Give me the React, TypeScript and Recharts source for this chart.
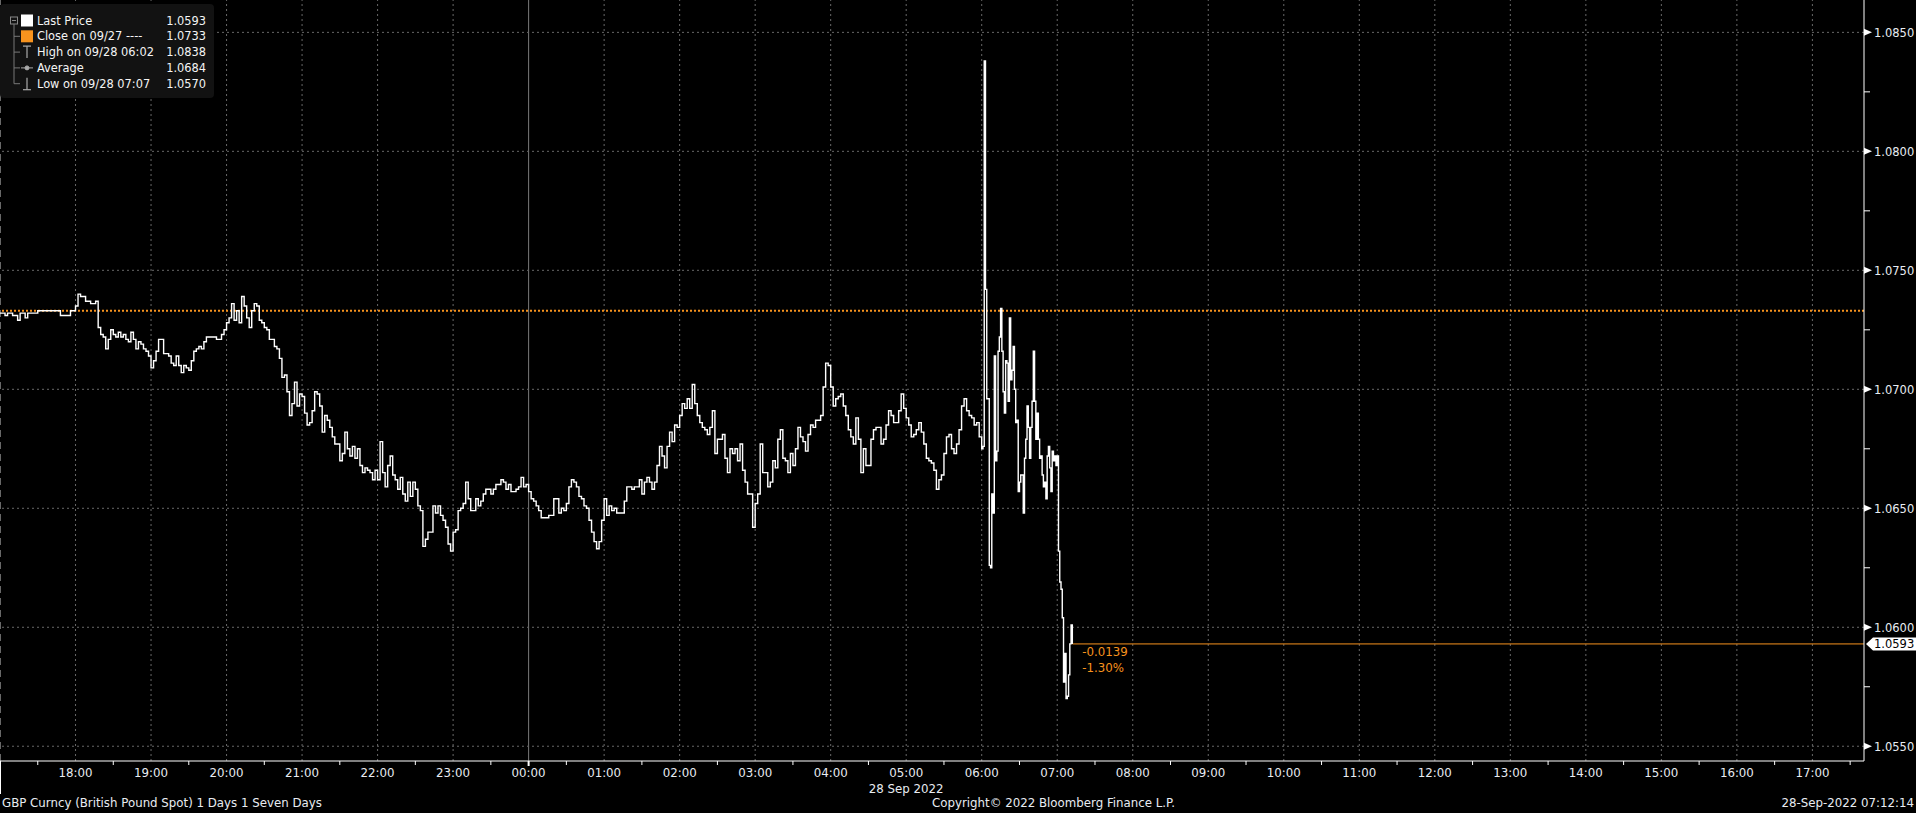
import React from 'react';
import { LineChart, Line, XAxis, YAxis, ReferenceLine, ReferenceDot } from 'recharts';

// GBP spot, minutes after 17:00 on 27 Sep. Overnight sampled every 2 min, morning every minute.
const overnightStart = 0;
const overnightStep = 2;
const overnightPrices = [
  1.0732, 1.0732, 1.0731, 1.0732, 1.0732, 1.0731, 1.0731, 1.0729, 1.0732, 1.0732, 1.0730, 1.0732, 1.0732, 1.0732, 1.0732, 1.0733, 1.0733, 1.0733, 1.0733, 1.0733, 1.0733, 1.0733, 1.0733, 1.0733, 1.0731, 1.0731, 1.0731, 1.0731, 1.0733, 1.0733,
  1.0735, 1.0740, 1.0739, 1.0739, 1.0737, 1.0737, 1.0736, 1.0736, 1.0737, 1.0726, 1.0723, 1.0722, 1.0717, 1.0721, 1.0725, 1.0723, 1.0722, 1.0724, 1.0722, 1.0723, 1.0721, 1.0720, 1.0724, 1.0721, 1.0717, 1.0720, 1.0719, 1.0717, 1.0716, 1.0714,
  1.0709, 1.0712, 1.0716, 1.0721, 1.0721, 1.0715, 1.0715, 1.0714, 1.0711, 1.0710, 1.0714, 1.0710, 1.0707, 1.0710, 1.0709, 1.0708, 1.0712, 1.0716, 1.0717, 1.0718, 1.0717, 1.0720, 1.0722, 1.0722, 1.0722, 1.0722, 1.0721, 1.0721, 1.0723, 1.0725,
  1.0728, 1.0730, 1.0736, 1.0729, 1.0733, 1.0728, 1.0739, 1.0735, 1.0730, 1.0726, 1.0733, 1.0736, 1.0735, 1.0729, 1.0728, 1.0726, 1.0725, 1.0721, 1.0721, 1.0718, 1.0717, 1.0713, 1.0705, 1.0706, 1.0699, 1.0689, 1.0694, 1.0703, 1.0693, 1.0698,
  1.0697, 1.0690, 1.0685, 1.0686, 1.0691, 1.0699, 1.0698, 1.0693, 1.0682, 1.0689, 1.0687, 1.0684, 1.0680, 1.0677, 1.0677, 1.0670, 1.0673, 1.0682, 1.0675, 1.0672, 1.0676, 1.0671, 1.0675, 1.0668, 1.0665, 1.0667, 1.0666, 1.0665, 1.0662, 1.0666,
  1.0662, 1.0678, 1.0665, 1.0659, 1.0668, 1.0672, 1.0664, 1.0662, 1.0658, 1.0663, 1.0656, 1.0653, 1.0661, 1.0655, 1.0661, 1.0658, 1.0651, 1.0649, 1.0634, 1.0637, 1.0640, 1.0640, 1.0651, 1.0648, 1.0651, 1.0647, 1.0645, 1.0642, 1.0635, 1.0632,
  1.0640, 1.0641, 1.0649, 1.0650, 1.0652, 1.0661, 1.0654, 1.0649, 1.0649, 1.0654, 1.0651, 1.0653, 1.0656, 1.0658, 1.0658, 1.0656, 1.0658, 1.0660, 1.0660, 1.0662, 1.0661, 1.0658, 1.0660, 1.0657, 1.0657, 1.0658, 1.0659, 1.0663, 1.0659, 1.0660,
  1.0657, 1.0654, 1.0653, 1.0651, 1.0649, 1.0646, 1.0646, 1.0646, 1.0647, 1.0647, 1.0654, 1.0654, 1.0648, 1.0650, 1.0649, 1.0652, 1.0659, 1.0662, 1.0661, 1.0659, 1.0655, 1.0654, 1.0651, 1.0650, 1.0645, 1.0640, 1.0636, 1.0633, 1.0636, 1.0645,
  1.0654, 1.0647, 1.0651, 1.0649, 1.0650, 1.0648, 1.0648, 1.0648, 1.0653, 1.0659, 1.0659, 1.0658, 1.0659, 1.0659, 1.0662, 1.0656, 1.0661, 1.0663, 1.0661, 1.0658, 1.0661, 1.0668, 1.0676, 1.0672, 1.0667, 1.0676, 1.0682, 1.0678, 1.0685, 1.0684,
  1.0689, 1.0694, 1.0692, 1.0696, 1.0692, 1.0702, 1.0694, 1.0689, 1.0686, 1.0684, 1.0683, 1.0681, 1.0684, 1.0691, 1.0673, 1.0679, 1.0679, 1.0681, 1.0671, 1.0665, 1.0675, 1.0673, 1.0675, 1.0670, 1.0677, 1.0666, 1.0661, 1.0656, 1.0656, 1.0642,
  1.0652, 1.0656, 1.0677, 1.0665, 1.0665, 1.0659, 1.0661, 1.0670, 1.0667, 1.0679, 1.0683, 1.0671, 1.0670, 1.0665, 1.0673, 1.0668, 1.0675, 1.0684, 1.0680, 1.0678, 1.0674, 1.0681, 1.0685, 1.0684, 1.0687, 1.0687, 1.0689, 1.0701, 1.0711, 1.0710,
  1.0701, 1.0693, 1.0696, 1.0697, 1.0698, 1.0693, 1.0689, 1.0683, 1.0680, 1.0677, 1.0688, 1.0679, 1.0665, 1.0675, 1.0668, 1.0668, 1.0679, 1.0683, 1.0684, 1.0684, 1.0677, 1.0679, 1.0685, 1.0691, 1.0689, 1.0686, 1.0686, 1.0691, 1.0698, 1.0692,
  1.0688, 1.0685, 1.0680, 1.0681, 1.0683, 1.0686, 1.0682, 1.0677, 1.0671, 1.0670, 1.0669, 1.0666, 1.0658, 1.0662, 1.0664, 1.0673, 1.0680, 1.0681, 1.0675, 1.0673, 1.0677, 1.0683, 1.0693, 1.0696, 1.0691, 1.0689, 1.0688, 1.0685, 1.0686, 1.0680,
];

const morningStart = 780; // 06:00
const morningStep = 1;
const morningPrices = [
  1.0675, 1.0676, 1.0838, 1.0742, 1.0696, 1.0696, 1.0626, 1.0625, 1.0656, 1.0648,
  1.0714, 1.0670, 1.0674, 1.0716, 1.0722, 1.0734, 1.0716, 1.0699, 1.0690, 1.0712,
  1.0711, 1.0695, 1.0730, 1.0704, 1.0708, 1.0718, 1.0700, 1.0686, 1.0687, 1.0657,
  1.0661, 1.0664, 1.0664, 1.0648, 1.0671, 1.0679, 1.0693, 1.0684, 1.0671, 1.0684,
  1.0695, 1.0716, 1.0695, 1.0679, 1.0690, 1.0679, 1.0671, 1.0672, 1.0664, 1.0659,
  1.0661, 1.0654, 1.0672, 1.0676, 1.0667, 1.0657, 1.0674, 1.0670, 1.0672, 1.0668,
  1.0672, 1.0632, 1.0619, 1.0616, 1.0604, 1.0577, 1.0589, 1.0570, 1.0571, 1.0580,
  1.0593, 1.0601, 1.0593,
];

const hourLabels = [
  '18:00', '19:00', '20:00', '21:00', '22:00', '23:00', '00:00', '01:00', '02:00', '03:00', '04:00', '05:00',
  '06:00', '07:00', '08:00', '09:00', '10:00', '11:00', '12:00', '13:00', '14:00', '15:00', '16:00', '17:00',
];
const dayBreakLabel = '00:00';
const dateUnder = '05:00';
const dateLabel = '28 Sep 2022';

const priceTicks = [1.055, 1.0575, 1.06, 1.0625, 1.065, 1.0675, 1.07, 1.0725, 1.075, 1.0775, 1.08, 1.0825, 1.085];
const priceLabels = ['1.0550', '1.0600', '1.0650', '1.0700', '1.0750', '1.0800', '1.0850'];

const closePrice = 1.0733;
const lastLabel = '1.0593';
const changeLabels = ['-0.0139', '-1.30%'];

const legendRows = [
  { icon: 'last', label: 'Last Price', value: '1.0593' },
  { icon: 'close', label: 'Close on 09/27 ----', value: '1.0733' },
  { icon: 'high', label: 'High on 09/28 06:02', value: '1.0838' },
  { icon: 'avg', label: 'Average', value: '1.0684' },
  { icon: 'low', label: 'Low on 09/28 07:07', value: '1.0570' },
];

const footerLeft = 'GBP Curncy (British Pound Spot) 1 Days 1 Seven Days';
const footerMid = 'Copyright\u00a9 2022 Bloomberg Finance L.P.';
const footerRight = '28-Sep-2022 07:12:14';

const X_DOMAIN: [number, number] = [0, 1481];
const Y_DOMAIN: [number, number] = [1.05438, 1.08636];
const ORANGE = '#f7931e';
const TEXT = '#e8ecf2';
const GRID = '#686868';
const FONT = "'DejaVu Sans', sans-serif";

const data = [
  ...overnightPrices.map((p, i) => ({ t: overnightStart + i * overnightStep, price: p })),
  ...morningPrices.map((p, i) => ({ t: morningStart + i * morningStep, price: p })),
];
const last = data[data.length - 1];
const hourValues = hourLabels.map((_, i) => (i + 1) * 60);
const halfHourTicks = Array.from({ length: 49 }, (_, i) => (i + 1) * 30);
const majorPrices = priceTicks.filter((_, i) => i % 2 === 0);

function TimeTick(props: any) {
  const { x, y, payload } = props;
  const t = payload.value as number;
  if (t % 60 !== 0) {
    return <line x1={x} x2={x} y1={y} y2={y + 4} stroke="#fff" />;
  }
  const label = hourLabels[t / 60 - 1];
  return (
    <g>
      {label === dayBreakLabel && <line x1={x} x2={x} y1={y} y2={y + 5} stroke="#fff" strokeWidth={2} />}
      <text x={x} y={y + 16} textAnchor="middle" fill={TEXT} fontSize={11.8} fontFamily={FONT}>
        {label}
      </text>
      {label === dateUnder && (
        <text x={x} y={y + 32} textAnchor="middle" fill={TEXT} fontSize={11.8} fontFamily={FONT}>
          {dateLabel}
        </text>
      )}
    </g>
  );
}

function PriceTick(props: any) {
  const { x, y, index } = props;
  if (index % 2 === 1) {
    return <line x1={x} x2={x + 6} y1={y} y2={y} stroke="#fff" />;
  }
  return (
    <g>
      <path d={`M${x} ${y - 3.5} L${x + 8} ${y} L${x} ${y + 3.5} Z`} fill="#fff" />
      <text x={x + 10} y={y + 4.3} fill={TEXT} fontSize={11.5} fontFamily={FONT}>
        {priceLabels[index / 2]}
      </text>
    </g>
  );
}

function LastPriceTag(props: any) {
  const vb = props.viewBox;
  const x = vb.x + vb.width / 2;
  const y = vb.y + vb.height / 2;
  return (
    <g>
      <path d={`M${x + 2} ${y} L${x + 9} ${y - 6.5} L${x + 52} ${y - 6.5} L${x + 52} ${y + 6.5} L${x + 9} ${y + 6.5} Z`} fill="#fff" />
      <text x={x + 10} y={y + 4.5} fill="#000" fontSize={11.5} fontFamily={FONT}>
        {lastLabel}
      </text>
    </g>
  );
}

function ChangeNote(props: any) {
  const vb = props.viewBox;
  const x = vb.x + vb.width / 2;
  const y = vb.y + vb.height / 2;
  return (
    <g fill={ORANGE} fontSize={11.8} fontFamily={FONT}>
      <text x={x + 10} y={y + 12.5}>{changeLabels[0]}</text>
      <text x={x + 10} y={y + 28.5}>{changeLabels[1]}</text>
    </g>
  );
}

function LegendIcon({ kind, cy }: { kind: string; cy: number }) {
  if (kind === 'last') return <rect x={21} y={cy - 6} width={12} height={12} fill="#fff" />;
  if (kind === 'close') return <rect x={21} y={cy - 6} width={12} height={12} fill={ORANGE} />;
  if (kind === 'high')
    return (
      <g stroke="#aaa" strokeWidth={1.2}>
        <line x1={27} x2={27} y1={cy - 6} y2={cy + 6} />
        <line x1={23} x2={31} y1={cy - 6} y2={cy - 6} />
      </g>
    );
  if (kind === 'avg')
    return (
      <g stroke="#aaa" fill="#aaa">
        <line x1={21} x2={33} y1={cy} y2={cy} />
        <circle cx={27} cy={cy} r={2} />
      </g>
    );
  return (
    <g stroke="#aaa" strokeWidth={1.2}>
      <line x1={27} x2={27} y1={cy - 6} y2={cy + 6} />
      <line x1={23} x2={31} y1={cy + 6} y2={cy + 6} />
    </g>
  );
}

function PriceLegend() {
  const rowY = (i: number) => 20.5 + i * 15.8;
  return (
    <div
      style={{
        position: 'absolute', left: 0, top: 4, width: 214, height: 94,
        background: '#121212', borderRadius: 4, fontFamily: FONT, fontSize: 11.4, color: '#f4f4f4',
      }}
    >
      <svg width={214} height={98} style={{ position: 'absolute', left: 0, top: -4 }}>
        <rect x={10.5} y={rowY(0) - 3.5} width={7} height={7} fill="none" stroke="#888" />
        <line x1={12} x2={16} y1={rowY(0)} y2={rowY(0)} stroke="#888" />
        <line x1={14} x2={14} y1={rowY(0) + 3.5} y2={rowY(4)} stroke="#777" />
        {legendRows.map((r, i) => (
          <g key={r.label}>
            {i > 0 && <line x1={14} x2={20} y1={rowY(i)} y2={rowY(i)} stroke="#777" />}
            <LegendIcon kind={r.icon} cy={rowY(i)} />
          </g>
        ))}
      </svg>
      {legendRows.map((r, i) => (
        <div key={r.label} style={{ position: 'absolute', left: 37, right: 8, top: rowY(i) - 4 - 8, height: 16, lineHeight: '16px', whiteSpace: 'nowrap' }}>
          <span>{r.label}</span>
          <span style={{ position: 'absolute', right: 0 }}>{r.value}</span>
        </div>
      ))}
    </div>
  );
}

export default function App() {
  return (
    <div style={{ position: 'absolute', left: 0, top: 0, width: 1916, height: 813, background: '#000', overflow: 'hidden', fontFamily: FONT }}>
      <LineChart width={1916} height={813} data={data} margin={{ top: 0, right: 0, bottom: 0, left: 0 }}>
        <XAxis
          dataKey="t"
          type="number"
          domain={X_DOMAIN}
          ticks={halfHourTicks}
          interval={0}
          height={52}
          tickSize={0}
          tickMargin={0}
          tickLine={false}
          axisLine={{ stroke: '#fff' }}
          tick={<TimeTick />}
          allowDataOverflow
        />
        <YAxis
          orientation="right"
          type="number"
          domain={Y_DOMAIN}
          ticks={priceTicks}
          interval={0}
          width={52}
          tickSize={0}
          tickMargin={0}
          tickLine={false}
          axisLine={{ stroke: '#fff' }}
          tick={<PriceTick />}
          allowDataOverflow
        />
        <ReferenceLine x={0} stroke={GRID} strokeWidth={2} strokeDasharray="7 5" />
        {hourValues.map((h, i) =>
          hourLabels[i] === dayBreakLabel ? (
            <ReferenceLine key={h} x={h} stroke="#7a7a7a" />
          ) : (
            <ReferenceLine key={h} x={h} stroke={GRID} strokeDasharray="2 3" />
          )
        )}
        {majorPrices.map((p) => (
          <ReferenceLine key={p} y={p} stroke={GRID} strokeDasharray="2 3" />
        ))}
        <ReferenceLine y={closePrice} stroke={ORANGE} strokeWidth={2} strokeDasharray="2 2" />
        <ReferenceLine
          segment={[{ x: last.t, y: last.price }, { x: X_DOMAIN[1], y: last.price }]}
          stroke={ORANGE}
          strokeWidth={1}
        />
        <Line
          dataKey="price"
          type="stepAfter"
          stroke="#fff"
          strokeWidth={1.4}
          dot={false}
          isAnimationActive={false}
        />
        <ReferenceDot x={last.t} y={last.price} r={1} fill="none" stroke="none" label={(p: any) => <ChangeNote {...p} />} />
        <ReferenceDot
          x={X_DOMAIN[1]}
          y={last.price}
          r={1}
          fill="none"
          stroke="none"
          ifOverflow="visible"
          label={(p: any) => <LastPriceTag {...p} />}
        />
      </LineChart>
      <PriceLegend />
      <div style={{ position: 'absolute', left: 0, top: 761, width: 1, height: 33, background: '#fff' }} />
      <div style={{ position: 'absolute', left: 2, top: 796, fontSize: 11.8, color: TEXT, whiteSpace: 'nowrap' }}>{footerLeft}</div>
      <div style={{ position: 'absolute', left: 932, top: 796, fontSize: 11.8, color: TEXT, whiteSpace: 'nowrap' }}>{footerMid}</div>
      <div style={{ position: 'absolute', right: 2, top: 796, fontSize: 11.8, color: TEXT, whiteSpace: 'nowrap' }}>{footerRight}</div>
    </div>
  );
}
